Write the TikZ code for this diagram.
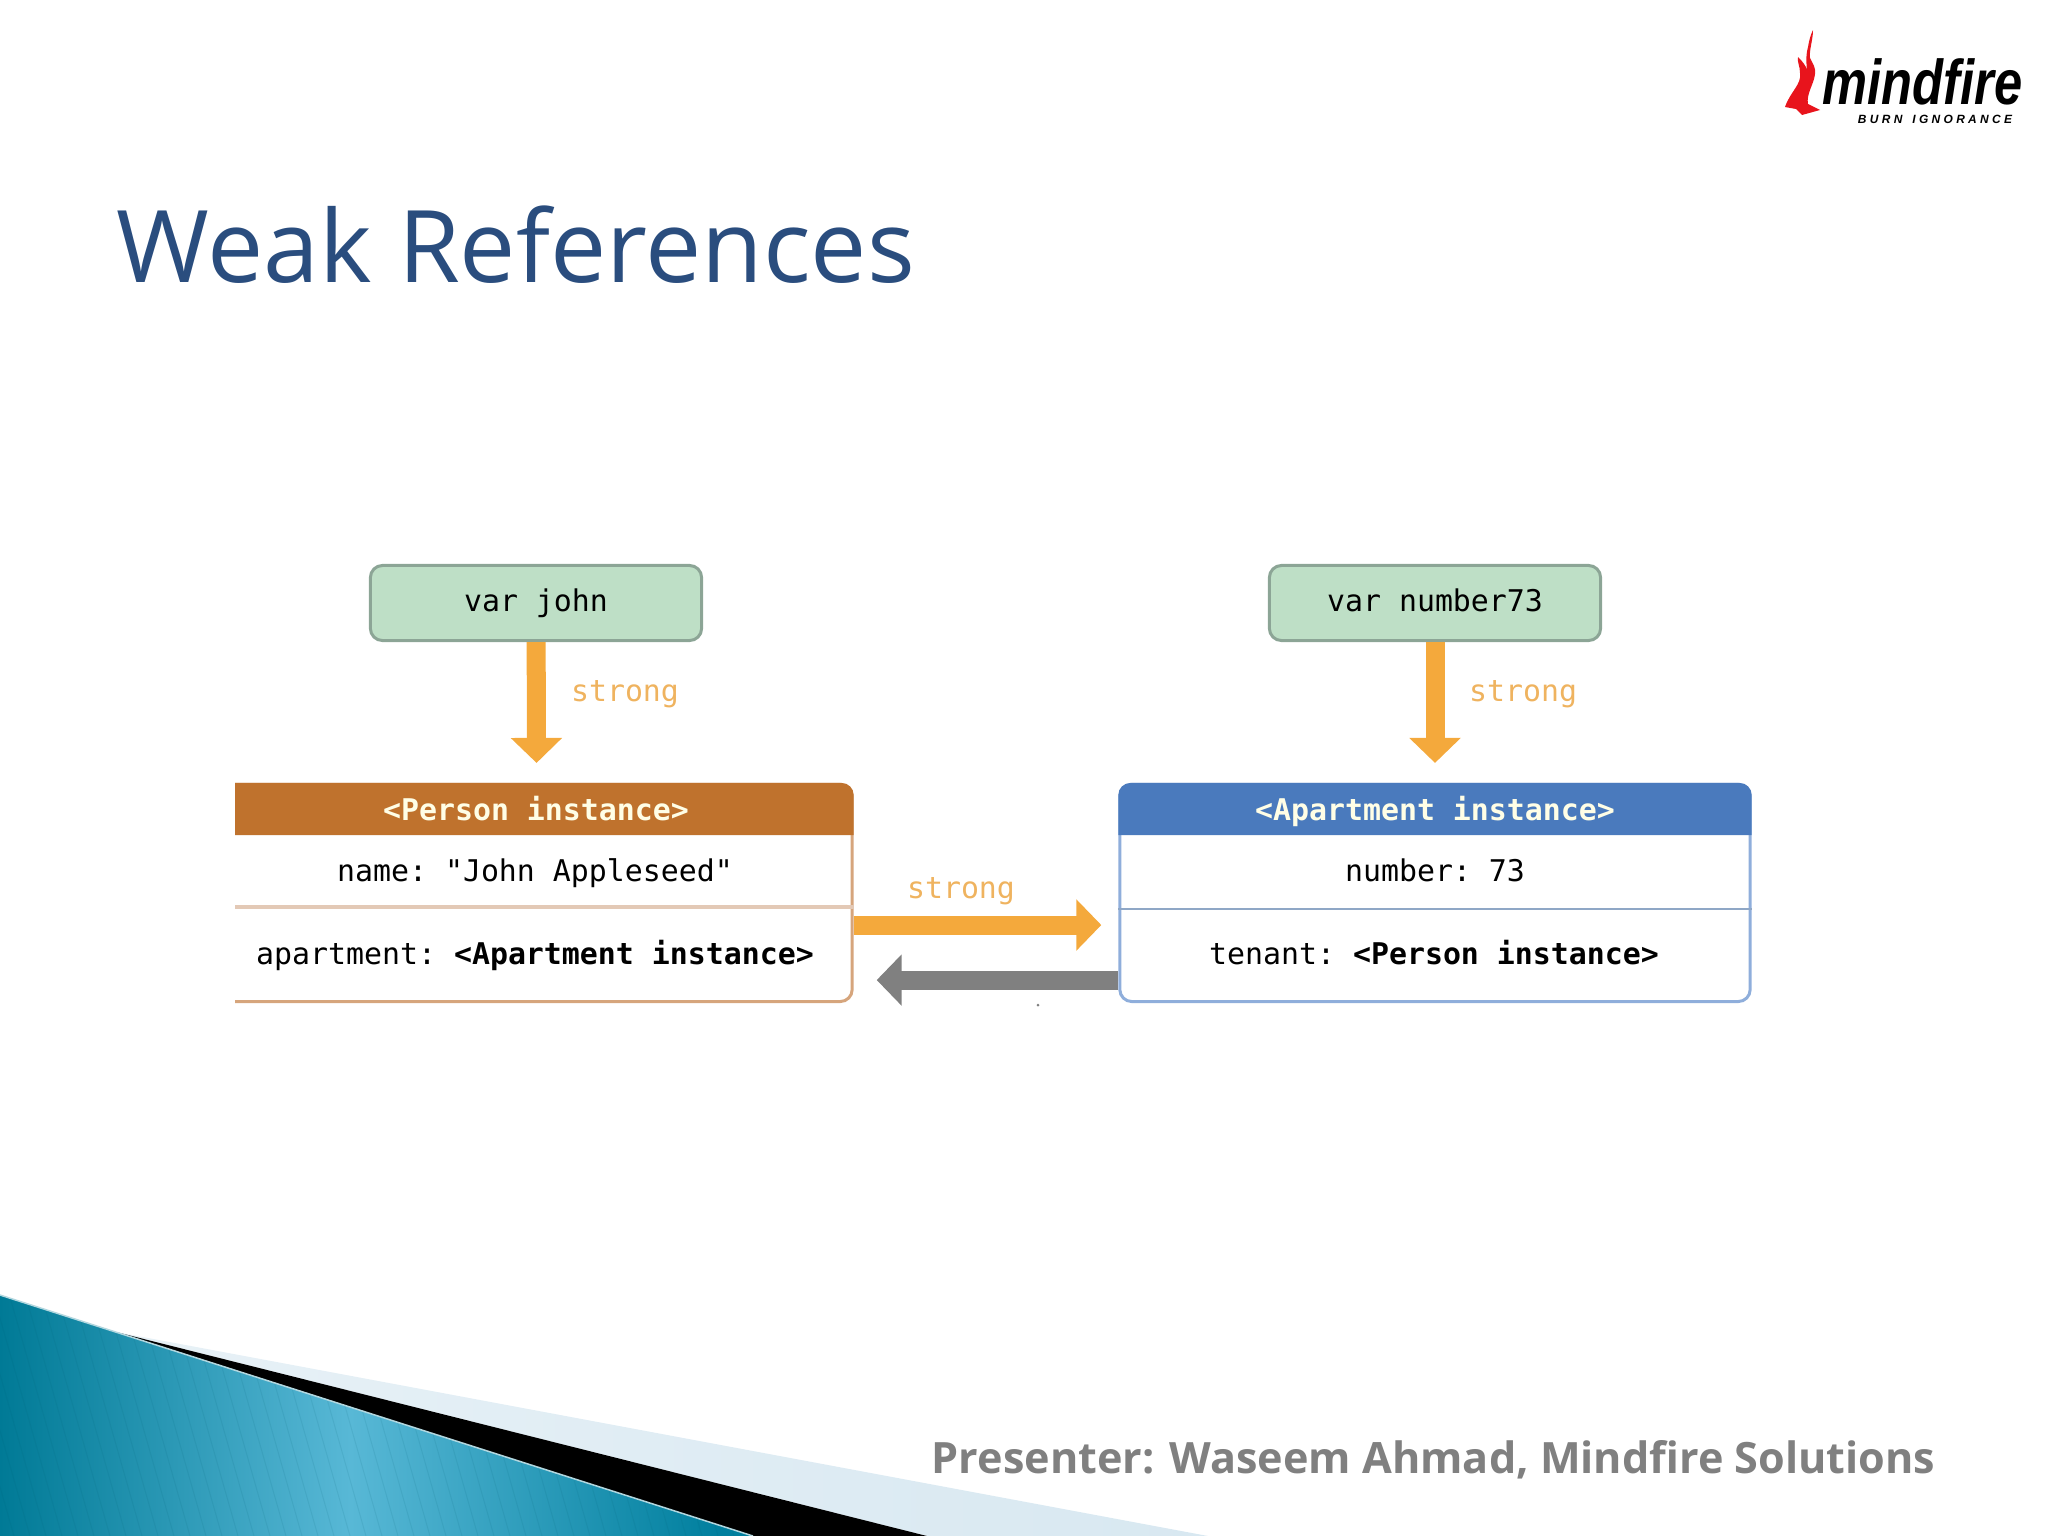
\documentclass[tikz,border=0pt]{standalone}
\usepackage{fontspec}
\usepackage{xcolor}
\setmainfont{Open Sans}
\setmonofont{DejaVu Sans Mono}
\newfontfamily\logofont{Liberation Sans}
\usetikzlibrary{arrows.meta, positioning}
\definecolor{titleblue}{HTML}{2A4D7E}
\definecolor{footgray}{HTML}{808080}
\definecolor{varfill}{HTML}{BEDFC6}
\definecolor{varedge}{HTML}{8CA596}
\definecolor{personfill}{HTML}{BF722D}
\definecolor{personedge}{HTML}{D6A57C}
\definecolor{personline}{HTML}{E3C9B6}
\definecolor{aptfill}{HTML}{4A7ABD}
\definecolor{aptedge}{HTML}{8FAEDB}
\definecolor{aptline}{HTML}{8FA7C6}
\definecolor{strongorange}{HTML}{F4A93C}
\definecolor{stronglabel}{HTML}{EFB35F}
\definecolor{weakgray}{HTML}{808080}
\definecolor{tealdark}{HTML}{007A96}
\definecolor{teallight}{HTML}{58B8D6}
\definecolor{tealright}{HTML}{007F9E}
\definecolor{palewedge}{HTML}{D8E8F1}
\definecolor{flamered}{HTML}{E8141C}
\tikzset{
  monotext/.style={font=\ttfamily\fontsize{8.5}{10}\selectfont, text height=6.5pt, text depth=1.5pt, inner sep=0pt},
  varbox/.style={draw=varedge, fill=varfill, line width=.03cm, rounded corners=.12cm, minimum width=3.31cm, minimum height=.75cm, monotext},
  instancebox/.style={line width=.03cm, rounded corners=.12cm, fill=white, minimum width=6.3cm, minimum height=2.17cm},
  headtext/.style={monotext, text=white!90!yellow, font=\ttfamily\bfseries\fontsize{8.5}{10}\selectfont},
  striparrow/.style={line width=.19cm, -{Triangle[width=.5cm, length=.25cm]}},
  stronglink/.style={striparrow, draw=strongorange, fill=strongorange},
  weaklink/.style={striparrow, draw=weakgray, fill=weakgray},
  strongtext/.style={monotext, text=stronglabel}
}
\begin{document}
\begin{tikzpicture}[x=.01cm, y=-.01cm]
\useasboundingbox (0,0) rectangle (2048,1536);
% title and footer
\node[text=titleblue, font=\fontsize{28.5}{34}\selectfont, anchor=west, inner sep=0pt] (title) at (116,245) {Weak References};
% corner wedge
\shade[left color=palewedge!60!white, right color=palewedge] (116,1332) -- (1208,1536) -- (927,1536) -- cycle;
\fill[black] (116,1332) -- (927,1536) -- (753,1536) -- cycle;
\begin{scope}
\clip (0,1295) -- (753,1536) -- (0,1536) -- cycle;
\shade[left color=tealdark, right color=teallight] (0,1290) rectangle (350,1536);
\shade[left color=teallight, right color=tealright] (350,1290) rectangle (720,1536);
\fill[tealright] (720,1290) rectangle (760,1536);
\foreach \i in {-120,-104,...,760}
  \draw[black!25!tealdark, opacity=.1, line width=.01cm] (\i,1290) -- (\i+70,1536);
\end{scope}
\draw[white!70!tealdark, line width=.015cm] (0,1295) -- (753,1536);
\node[text=footgray, font=\bfseries\fontsize{12.27}{15}\selectfont, anchor=east, inner sep=0pt] (footer) at (1936,1460) {Presenter: Waseem Ahmad, Mindfire Solutions};
% logo
\fill[flamered] (1785,107) .. controls (1790,92) and (1802,84) .. (1800,73)
  .. controls (1800,66) and (1797,62) .. (1798,57)
  .. controls (1803,62) and (1806,66) .. (1807,70)
  .. controls (1806,60) and (1806,54) .. (1808,47)
  .. controls (1809,40) and (1811,34) .. (1813,30)
  .. controls (1813,40) and (1809,50) .. (1810,58)
  .. controls (1813,64) and (1816,68) .. (1815,74)
  .. controls (1814,84) and (1806,94) .. (1808,104)
  -- (1820,110) -- (1802,115) -- (1796,109) -- cycle;
\node[font=\logofont\bfseries\itshape\fontsize{18}{20}\selectfont, inner sep=0pt, anchor=base west, xscale=.8] (logoname) at (1822,104) {mindfire};
\node[font=\logofont\bfseries\itshape\fontsize{3.4}{4}\selectfont, inner sep=0pt] (logotag) at (1935,119) {B U R N\ \ \ I G N O R A N C E};
% variables
\node[varbox] (varjohn) at (536,603) {var john};
\node[varbox] (varnumber) at (1435,603) {var number73};
% person instance, cut off at the left
\begin{scope}
\clip (235,770) rectangle (870,1015);
\node[instancebox, draw=personedge] (personbox) at (537,893) {};
\fill[personfill] (personbox.south west |- 0,835) [rounded corners=.12cm] |- (personbox.north east) [sharp corners] |- cycle;
\draw[personline, line width=.035cm] (personbox.west |- 0,907) -- (personbox.east |- 0,907);
\end{scope}
\node[headtext] (personhead) at (536,812) {<Person instance>};
\node[monotext] (personname) at (535,873) {name: "John Appleseed"};
\node[monotext] (personapt) at (535,956) {apartment: \textbf{<Apartment instance>}};
% apartment instance
\node[instancebox, draw=aptedge] (aptbox) at (1435,893) {};
\fill[aptfill] (aptbox.south west |- 0,835) [rounded corners=.12cm] |- (aptbox.north east) [sharp corners] |- cycle;
\draw[aptline, line width=.02cm] (aptbox.west |- 0,909) -- (aptbox.east |- 0,909);
\node[headtext] (apthead) at (1435,812) {<Apartment instance>};
\node[monotext] (aptnumber) at (1435,873) {number: 73};
\node[monotext] (apttenant) at (1434,956) {tenant: \textbf{<Person instance>}};
% references
\draw[stronglink, shorten >=.2cm] (varjohn) -- (personbox);
\draw[stronglink, shorten >=.2cm] (varnumber) -- (aptbox);
\draw[stronglink, shorten >=.17cm] ([yshift=-.32cm]personbox.east) -- ([yshift=-.32cm]aptbox.west);
\draw[weaklink, shorten >=.23cm] ([yshift=-.87cm]aptbox.west) -- ([yshift=-.87cm]personbox.east);
\fill[weakgray] (1038,1005) circle (1.5);
\node[strongtext] (johnstrong) at (625,693) {strong};
\node[strongtext] (numberstrong) at (1523,693) {strong};
\node[strongtext] (aptstrong) at (961,890) {strong};
\end{tikzpicture}
\end{document}
